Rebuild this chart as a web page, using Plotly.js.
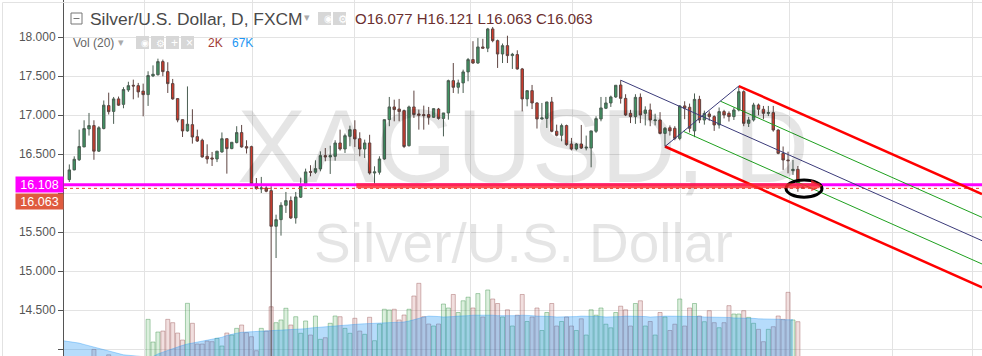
<!DOCTYPE html>
<html><head><meta charset="utf-8">
<script src="https://cdn.plot.ly/plotly-3.0.1.min.js"></script>
<style>html,body{margin:0;padding:0;background:#fff;overflow:hidden}#chart{width:982px;height:356px}</style>
</head><body><div id="chart"></div>
<script>
// ---- data (bar index 0..149, daily bars) ----
const opens  = [16.175,16.30,16.43,16.594,16.825,16.868,16.54,16.83,17.124,17.05,17.21,17.14,17.325,17.385,17.38,17.31,17.265,17.505,17.52,17.688,17.56,17.406,17.214,16.944,16.80,16.88,16.726,16.68,16.474,16.453,16.44,16.53,16.70,16.573,16.65,16.778,16.598,16.598,16.12,16.056,16.068,16.034,15.577,15.662,15.846,15.906,15.684,15.95,16.10,16.278,16.27,16.312,16.483,16.466,16.474,16.645,16.568,16.73,16.816,16.70,16.568,16.645,16.26,16.27,16.44,16.944,17.107,17.08,17.06,16.61,17.107,17.017,17.009,17.009,16.974,17.08,16.96,17.03,17.444,17.359,17.415,17.556,17.714,17.67,17.876,17.86,18.107,17.957,17.786,17.893,17.765,17.778,17.594,17.21,17.316,17.158,16.953,16.96,17.171,16.795,16.744,16.868,16.632,16.568,16.632,16.58,16.58,16.795,16.953,17.09,17.158,17.235,17.388,17.217,17.025,16.983,17.23,17.025,17.068,16.931,16.94,16.768,16.84,16.833,16.704,17.12,17.103,16.80,17.204,16.94,17.017,16.983,16.876,17.047,17.025,16.983,17.068,17.303,16.897,16.94,17.132,17.077,17.025,17.034,16.811,16.512,16.427,16.29,16.307,16.077];
const highs  = [16.37,16.474,16.816,16.936,17.03,16.936,16.86,17.19,17.29,17.235,17.24,17.36,17.43,17.457,17.415,17.406,17.564,17.64,17.726,17.714,17.68,17.466,17.214,16.944,17.37,17.077,16.816,16.70,16.628,16.53,16.54,16.78,16.70,16.654,16.86,16.876,16.68,16.61,16.196,16.21,16.09,16.09,15.726,15.885,16.017,15.96,16.017,16.20,16.316,16.36,16.423,16.538,16.58,16.61,16.68,16.816,16.765,16.867,16.936,16.782,16.688,16.75,16.346,16.474,16.944,17.235,17.2,17.21,17.073,17.124,17.316,17.073,17.124,17.107,17.09,17.094,17.03,17.457,17.67,17.457,17.585,17.735,17.95,17.99,17.98,18.12,18.132,17.97,17.92,18.02,17.8,17.833,17.607,17.316,17.389,17.167,17.158,17.171,17.235,16.88,16.893,16.88,16.71,16.645,16.876,16.74,16.80,16.987,17.235,17.235,17.252,17.385,17.45,17.27,17.07,17.27,17.28,17.115,17.15,17.02,17.04,16.85,16.87,16.86,17.13,17.18,17.15,17.28,17.25,17.06,17.05,17.00,17.10,17.07,17.05,17.10,17.375,17.32,16.98,17.16,17.15,17.12,17.12,17.12,16.82,16.60,16.533,16.427,16.35,16.121];
const lows   = [16.145,16.295,16.415,16.594,16.74,16.43,16.53,16.82,17.01,16.89,17.12,17.09,17.30,17.205,17.227,16.987,17.12,17.49,17.51,17.5,17.286,17.2,16.91,16.722,16.79,16.637,16.658,16.457,16.38,16.35,16.40,16.52,16.252,16.565,16.64,16.585,16.51,16.11,16.047,16.004,16.013,13.85,15.17,15.457,15.748,15.67,15.611,15.94,16.09,16.218,16.25,16.282,16.41,16.248,16.418,16.547,16.517,16.603,16.594,16.474,16.453,16.24,16.12,16.24,16.43,16.86,16.923,16.923,16.58,16.60,16.966,16.816,16.816,16.88,16.966,16.944,16.73,16.944,17.286,17.278,17.286,17.436,17.66,17.66,17.86,17.81,17.936,17.607,17.67,17.67,17.594,17.585,17.05,17.115,17.08,16.83,16.944,16.838,16.782,16.73,16.667,16.61,16.55,16.55,16.568,16.55,16.333,16.774,16.923,17.08,17.107,17.222,17.15,16.99,16.90,16.89,16.90,16.87,16.86,16.87,16.756,16.60,16.74,16.68,16.68,16.95,16.78,16.72,16.90,16.88,16.93,16.80,16.83,16.96,16.92,16.94,17.05,16.86,16.85,16.92,17.00,16.95,16.99,16.79,16.50,16.30,16.256,16.235,16.02,16.063];
const closes = [16.30,16.436,16.60,16.83,16.868,16.54,16.84,17.13,17.047,17.21,17.13,17.33,17.38,17.376,17.30,17.265,17.51,17.526,17.688,17.56,17.406,17.21,16.94,16.80,16.885,16.722,16.67,16.466,16.44,16.44,16.54,16.70,16.573,16.654,16.778,16.594,16.58,16.12,16.06,16.068,16.026,15.577,15.662,15.846,15.906,15.684,15.953,16.10,16.274,16.27,16.316,16.483,16.466,16.483,16.645,16.568,16.739,16.816,16.697,16.568,16.645,16.26,16.274,16.44,16.944,17.107,17.073,17.047,16.60,17.107,17.009,17.0,16.996,16.974,17.085,16.96,17.03,17.444,17.359,17.415,17.556,17.714,17.67,17.876,17.86,18.107,17.957,17.786,17.893,17.765,17.782,17.594,17.21,17.316,17.158,16.953,16.966,17.171,16.795,16.744,16.868,16.624,16.568,16.632,16.58,16.59,16.80,16.957,17.094,17.158,17.235,17.385,17.217,17.004,16.983,17.23,17.004,17.068,16.94,16.94,16.768,16.833,16.80,16.704,17.12,17.09,16.833,17.204,16.94,17.025,16.983,16.876,17.047,17.004,16.983,17.068,17.303,16.897,16.94,17.132,17.077,17.025,17.034,16.811,16.512,16.427,16.418,16.307,16.128,16.063];
const volumes = [20,18,22,19,21,34,24,22,28,20,23,21,19,22,20,24,67.4,42.2,53.3,54.4,67.4,63.7,52.2,44.4,85.2,63,40,40,43.3,42.6,46.3,37.8,52.2,50,57.4,61.1,52.6,48.1,32.6,57.4,54.4,81.4,63.7,66.7,79.7,61.1,70.3,51.9,65.6,50,71.1,45.2,47,63,71.1,70.3,57.4,51.9,68.6,54.4,50.8,69.7,43.7,62.2,78.6,77.8,78.6,66.7,72.2,78.6,93.3,107.4,70.3,62.2,60,62.2,84.4,80,95,75,88,92,80,96,70,100,90,85,70,78,60,72,95,65,70,80,55,75,85,60,65,70,60,55,68,50,78,72,80,62,58,75,82,78,60,85,88,60,65,50,75,70,55,62,90,60,80,85,71.1,64.8,77,63.7,58.1,63.7,82.6,73.3,73.3,77,69.6,63,56.3,42.6,56.3,59.2,71.1,67.4,97.4,66.7,64.8,2];
const volumeMA = [43.5,42,41,39.5,38,36.5,35.5,34,32,30.5,29,28,27.5,27,26.5,26,25.5,26,29,31,33,35,37,38.5,40,41,42,43.5,44.5,45.5,46.5,47.5,49.5,51,52,53,53.3,53.3,53.5,53.5,54,54.4,54.5,55,55.3,55.6,56,56.5,57,57.8,58.3,58.8,59.5,60,60.5,61,61.2,61.5,62,62.2,62.5,62.8,63,63.3,63.3,63.3,63.5,64,64.5,65.5,67,69,70,71,71,70.5,70,70,70.5,71,71,71.5,72,72,72.5,72,72,71.5,71.5,71,71,71.5,72,72,71.5,71,71,70.5,70.5,70,70,70,70.5,70.5,71,71,71,70.5,70.5,70,70,70,70.5,71,71,71,70.5,70.5,70,70,70.5,71,71,71,71,71,70.5,70.5,70.5,70,70,70,69.5,69.5,69.5,69,69,69,68.5,68.5,68,68,68,67.5,67.5,67,67,67];
const priceTicks = [14.0,14.5,15.0,15.5,16.0,16.5,17.0,17.5,18.0];
const priceTickText = ['14.000','14.500','15.000','15.500','','16.500','17.000','17.500','18.000']; // 16.000 sits under the price labels
const monthGrid  = [15.2,37.2,58.0,81.4,102.3,124.1,146.3,167.3,183.4];
const pitchA = [112,17.45], pitchB = [121,16.60], pitchC = [136,17.375];
const hLevel = 16.108, lastClose = 16.063;
const arrowFrom = [58,16.098], arrowTo = [153,16.098];
const ellipseBox = [145.6,152.9,15.95,16.17];
const header = {symbol:'Silver/U.S. Dollar, D, FXCM', o:'16.077', h:'16.121', l:'16.063', c:'16.063', vol:'2K', volMA:'67K'};

// ---- layout helpers ----
const X0 = -1.08, X1 = 185.4, PL = 64, PW = 918, H = 356;
const px = v => (v - PL) / PW;   // pixel x -> paper
const py = v => 1 - v / H;       // pixel y -> paper
const idx = opens.map((_, i) => i);

const upVol = closes.map((c, i) => c >= opens[i]);
const traces = [
  {type:'bar', x:idx, y:volumes, yaxis:'y', width:0.82,
   marker:{color:upVol.map(u => u ? 'rgba(90,180,100,0.22)' : 'rgba(190,110,110,0.22)'),
           line:{color:upVol.map(u => u ? 'rgba(70,150,85,0.45)' : 'rgba(160,95,95,0.45)'), width:1}},
   hoverinfo:'skip'},
  {type:'scatter', mode:'lines', x:[X0].concat(idx.slice(1)), y:volumeMA, yaxis:'y', fill:'tozeroy',
   fillcolor:'rgba(33,150,243,0.33)', line:{color:'rgba(33,150,243,0.35)', width:1}, hoverinfo:'skip'},
  {type:'candlestick', x:idx, open:opens, high:highs, low:lows, close:closes, yaxis:'y2',
   whiskerwidth:0,
   increasing:{fillcolor:'#3e9462', line:{color:'#4b5e52', width:1}},
   decreasing:{fillcolor:'#d23a2b', line:{color:'#5e4440', width:1}},
   hoverinfo:'skip'}
];

// pitchfork geometry from its three anchors
const mid = (p, q) => [(p[0]+q[0])/2, (p[1]+q[1])/2];
const M = mid(pitchB, pitchC);
const slope = (M[1]-pitchA[1]) / (M[0]-pitchA[0]);
const ray = (p, color, w) => ({type:'line', xref:'x', yref:'y2', x0:p[0], y0:p[1], x1:X1, y1:p[1] + slope*(X1-p[0]), line:{color:color, width:w}});
const shapes = [
  {type:'line', xref:'paper', yref:'paper', x0:px(2.5), x1:1, y0:py(2.5), y1:py(2.5), line:{color:'#e2e2e2', width:1}},
  {type:'line', xref:'paper', yref:'paper', x0:px(2.5), x1:px(2.5), y0:0, y1:py(2.5), line:{color:'#e2e2e2', width:1}},
  {type:'line', xref:'paper', yref:'y2', x0:0, x1:1, y0:lastClose, y1:lastClose, line:{color:'#e8412c', width:1, dash:'dot'}},
  {type:'line', xref:'paper', yref:'y2', x0:0, x1:1, y0:hLevel, y1:hLevel, line:{color:'#ff00ff', width:3}},
  ray(pitchA, '#3b3b7a', 1),
  ray(pitchB, '#ff0000', 2.5),
  ray(pitchC, '#ff0000', 2.5),
  ray(mid(pitchB, M), '#1fa01f', 1),
  ray(mid(pitchC, M), '#1fa01f', 1),
  {type:'line', xref:'x', yref:'y2', x0:pitchB[0], y0:pitchB[1], x1:pitchC[0], y1:pitchC[1], line:{color:'#3b3b7a', width:1}},
  {type:'circle', xref:'x', yref:'y2', x0:ellipseBox[0], x1:ellipseBox[1], y0:ellipseBox[2], y1:ellipseBox[3], line:{color:'#000', width:3}},
  // header icons
  {type:'rect', xref:'paper', yref:'paper', x0:px(71), x1:px(82), y0:py(24), y1:py(13), line:{color:'#777', width:1}},
  {type:'line', xref:'paper', yref:'paper', x0:px(73.5), x1:px(79.5), y0:py(18.5), y1:py(18.5), line:{color:'#777', width:1}},
  ...[318,333].map(a => ({type:'rect', xref:'paper', yref:'paper', x0:px(a), x1:px(a+13), y0:py(25), y1:py(12), fillcolor:'#d7d7d7', line:{width:0}})),
  ...[136,151,166,181].map(a => ({type:'rect', xref:'paper', yref:'paper', x0:px(a), x1:px(a+13), y0:py(49), y1:py(36), fillcolor:'#d7d7d7', line:{width:0}}))
];

const ann = (x, y, text, size, color, extra) => Object.assign({xref:'paper', yref:'paper', x:px(x), y:py(y), text:text, showarrow:false, xanchor:'left', yanchor:'middle', font:{size:size, color:color}}, extra||{});
const annotations = [
  {xref:'paper', yref:'paper', x:0.5, y:py(146), text:'XAGUSD, D', showarrow:false, xanchor:'center', yanchor:'middle', font:{size:104, color:'rgba(0,0,0,0.1)'}},
  {xref:'paper', yref:'paper', x:0.5, y:py(243), text:'Silver/U.S. Dollar', showarrow:false, xanchor:'center', yanchor:'middle', font:{size:55, color:'rgba(0,0,0,0.1)'}},
  {xref:'x', yref:'y2', x:arrowTo[0], y:arrowTo[1], axref:'x', ayref:'y2', ax:arrowFrom[0], ay:arrowFrom[1], text:'', showarrow:true, arrowhead:2, arrowsize:0.45, arrowwidth:5, arrowcolor:'rgba(255,45,45,0.8)'},
  ann(88, 18.5, header.symbol, 17.4, '#4a4a4a'),
  ann(302, 17.5, '▾', 11, '#aaa'),
  ann(321.5, 18.5, '◉', 10, '#fff'),
  ann(336, 18.5, '⚙', 11, '#fff'),
  ann(353, 18.5, 'O' + header.o + ' H' + header.h + ' L' + header.l + ' C' + header.c, 15, '#6b2f2f'),
  ann(71, 43, 'Vol (20)', 12, '#666'),
  ann(116, 42.5, '▾', 11, '#aaa'),
  ann(139, 43, '◉', 9, '#fff'),
  ann(154, 43, '⚙', 10, '#fff'),
  ann(168.5, 43, '+', 12, '#fff'),
  ann(183.5, 43, '×', 12, '#fff'),
  ann(206, 43, header.vol, 12, '#a33a33'),
  ann(230, 43, header.volMA, 12, '#2196f3'),
  {xref:'paper', yref:'paper', x:0, y:py(184.5), xanchor:'right', yanchor:'middle', text:hLevel.toFixed(3), showarrow:false, bgcolor:'#ff00ff', width:45, height:13, borderpad:1, align:'center', font:{size:12.5, color:'#fff'}},
  {xref:'paper', yref:'paper', x:0, y:py(201.5), xanchor:'right', yanchor:'middle', text:lastClose.toFixed(3), showarrow:false, bgcolor:'#df5b3f', width:45, height:13, borderpad:1, align:'center', font:{size:12.5, color:'#fff'}}
];

const layout = {
  width:982, height:356, margin:{l:64, r:0, t:0, b:0}, paper_bgcolor:'#fff', plot_bgcolor:'#fff',
  showlegend:false, dragmode:false, barmode:'overlay',
  font:{family:'Liberation Sans, Arial, sans-serif', color:'#555', size:12},
  xaxis:{range:[X0, X1], tickvals:monthGrid, showticklabels:false, ticks:'', showgrid:true, gridcolor:'#e3e3e3', zeroline:false, rangeslider:{visible:false}, fixedrange:true},
  yaxis:{range:[26.7, 422], visible:false, fixedrange:true},
  yaxis2:{overlaying:'y', side:'left', range:[13.914, 18.478], tickvals:priceTicks, ticktext:priceTickText, ticks:'outside', ticklen:5, tickcolor:'#555',
          showline:true, linecolor:'#555', linewidth:1, showgrid:true, gridcolor:'#e3e3e3', zeroline:false, tickfont:{size:12, color:'#555'}, fixedrange:true},
  shapes:shapes, annotations:annotations
};
Plotly.newPlot('chart', traces, layout, {staticPlot:true, displayModeBar:false});
</script></body></html>
